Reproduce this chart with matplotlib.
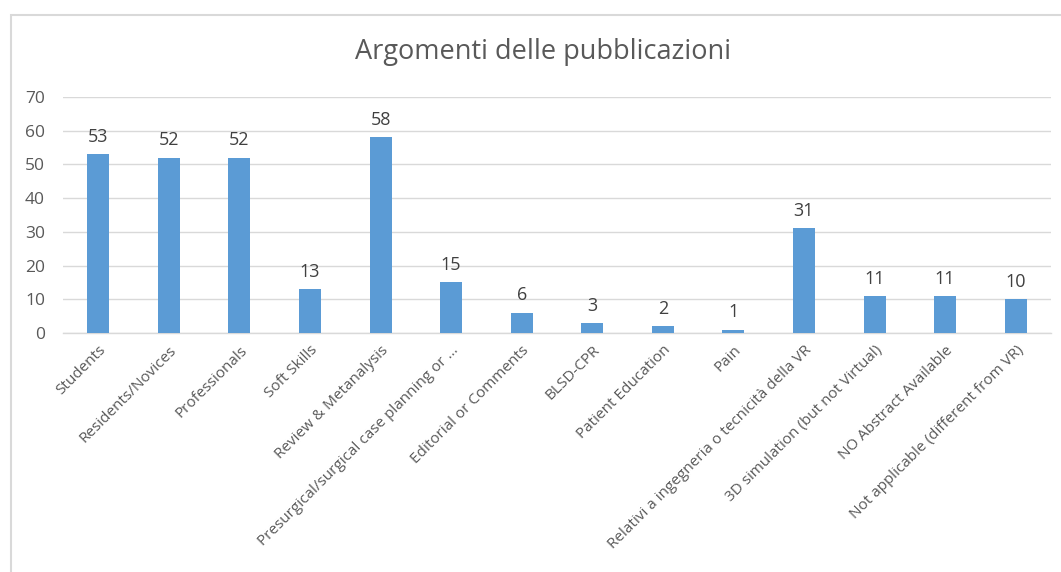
import matplotlib
matplotlib.use("Agg")
import matplotlib.pyplot as plt
from matplotlib.patches import Rectangle

categories = ["Students", "Residents/Novices", "Professionals", "Soft Skills",
              "Review & Metanalysis", "Presurgical/surgical case planning or ...",
              "Editorial or Comments", "BLSD-CPR", "Patient Education", "Pain",
              "Relativi a ingegneria o tecnicità della VR",
              "3D simulation (but not Virtual)", "NO Abstract Available",
              "Not applicable (different from VR)"]
values = [53, 52, 52, 13, 58, 15, 6, 3, 2, 1, 31, 11, 11, 10]
yticks = [0, 10, 20, 30, 40, 50, 60, 70]
title = "Argomenti delle pubblicazioni"

plt.rcParams['font.family'] = ['Open Sans', 'DejaVu Sans']
W, H = 1061, 572
fig = plt.figure(figsize=(W / 100, H / 100), dpi=100)
fig.patch.set_facecolor("white")

# chart border
fig.patches.append(Rectangle((11 / W, -0.1), 1.2, 1 - 15 / H + 0.1,
                             transform=fig.transFigure, fill=False,
                             edgecolor="#D9D9D9", linewidth=1.5))

ax = fig.add_axes([63 / W, 1 - 333 / H, (1051 - 63) / W, (333 - 97) / H])
x = range(len(categories))
bars = ax.bar(x, values, width=0.31, color="#5B9BD5", zorder=3)
ax.set_xlim(-0.5, len(categories) - 0.5)
ax.set_ylim(0, 70)
ax.set_yticks(yticks)
ax.set_yticklabels([str(t) for t in yticks], fontsize=12.5, color="#595959")
ax.grid(axis="y", color="#D9D9D9", linewidth=1, zorder=0)
for s in ["top", "right", "left"]:
    ax.spines[s].set_visible(False)
ax.spines["bottom"].set_color("#D9D9D9")
ax.spines["bottom"].set_linewidth(1)
ax.tick_params(axis="both", length=0)
ax.tick_params(axis="y", pad=13)
ax.set_xticks(list(x))
ax.set_xticklabels(categories, rotation=45, ha="right", rotation_mode="anchor",
                   fontsize=11, color="#595959")
ax.tick_params(axis="x", pad=7)

for i, v in enumerate(values):
    ax.annotate(str(v), (i, v), xytext=(0, 6), textcoords="offset points",
                ha="center", va="bottom", fontsize=13, color="#404040")

fig.text(543 / W, 1 - 52 / H, title, ha="center", va="center",
         fontsize=19.5, color="#595959")

fig.savefig("out.png", dpi=100)
